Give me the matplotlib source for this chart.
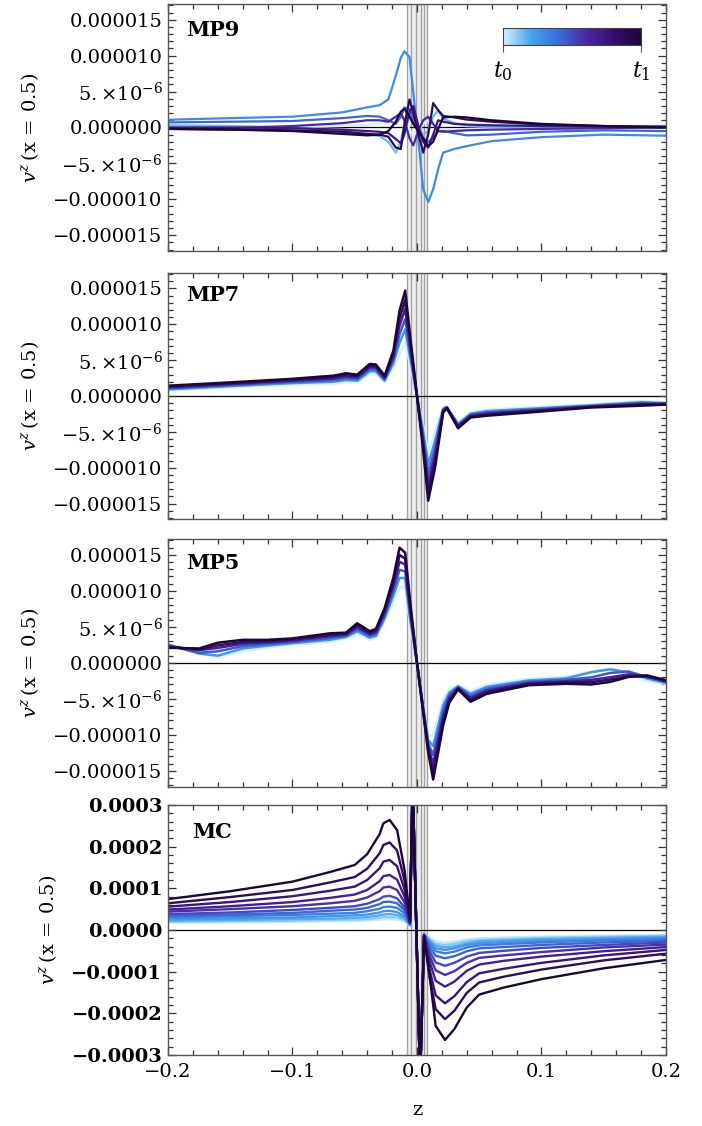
import numpy as np
import matplotlib
matplotlib.use('Agg')
import matplotlib.pyplot as plt
from matplotlib.colors import LinearSegmentedColormap
from matplotlib.ticker import MultipleLocator, AutoMinorLocator

plt.rcParams['font.family'] = ['DejaVu Serif']
plt.rcParams['mathtext.fontset'] = 'dejavuserif'

# ---- data (v^z in units of 1e-6 for MP panels, 1e-4 for MC) ----
z_mp9 = [-0.2, -0.15, -0.1, -0.06, -0.04, -0.03, -0.023, -0.017, -0.013, -0.0102, -0.006, -0.003,
         0.001, 0.005, 0.009, 0.013, 0.017, 0.021, 0.03, 0.04, 0.06, 0.1, 0.15, 0.2]
t_mp9 = [0.0, 0.15, 0.3, 0.42, 0.6, 0.72, 0.86, 1.0]
mp9_curves = [
    [0.1, 0.0, 0.0, 0.2, 0.4, 0.6, 1.0, 1.5, 1.8, 1.2, -0.2, -1.2, -0.6, 0.5, 1.0, 0.4, -0.4, -0.4, -0.3, -0.2, -0.1, 0.0, 0.1, 0.3],
    [0.3, 0.2, 0.0, -0.5, -0.9, -1.2, -2.0, -3.5, -2.0, 0.5, 1.8, 1.0, 0.0, -1.0, -0.5, 1.5, 2.4, 1.2, 0.6, 0.3, 0.1, 0.0, 0.1, 0.2],
    [1.07, 1.3, 1.5, 2.1, 2.8, 3.1, 3.9, 7.2, 9.7, 10.6, 9.8, 4.9, -1.6, -8.6, -10.4, -8.6, -5.8, -3.5, -3.0, -2.6, -1.9, -1.35, -1.0, -1.15],
    [0.7, 0.8, 0.9, 1.3, 1.6, 1.5, 1.0, 0.5, 1.5, 2.8, 2.5, 1.0, -0.2, -1.5, -2.0, -1.5, -0.5, -0.5, -0.8, -1.1, -1.0, -0.6, -0.4, -0.5],
    [-0.1, -0.1, 0.2, 0.6, 1.0, 1.0, 0.8, 1.5, 2.0, 1.0, -1.5, -2.5, -0.5, 1.0, 1.5, 0.5, -0.5, -0.6, -0.5, -0.4, -0.3, -0.2, -0.1, 0.0],
    [0.0, 0.0, -0.1, -0.3, -0.5, -0.6, -0.8, -1.6, -2.2, -1.0, 2.2, 3.0, 0.3, -2.0, -2.8, -1.0, 1.0, 0.8, 0.5, 0.4, 0.3, 0.2, 0.1, 0.0],
    [-0.2, -0.3, -0.4, -0.6, -0.9, -1.0, -1.3, -2.8, -3.0, 0.3, 3.9, 2.0, -0.8, -3.5, -1.0, 3.4, 2.4, 1.6, 1.4, 1.1, 0.8, 0.4, 0.2, 0.1],
    [-0.2, -0.3, -0.5, -0.9, -1.1, -1.0, -0.5, 0.8, 2.2, 2.6, 1.5, 0.5, -0.5, -1.5, -2.6, -2.0, -0.2, 1.4, 1.5, 1.4, 1.0, 0.5, 0.2, 0.0],
]

z_mp7 = [-0.2, -0.15, -0.1, -0.067, -0.057, -0.048, -0.038, -0.033, -0.026, -0.019, -0.014, -0.0095, -0.0055,
         0.0, 0.005, 0.009, 0.0145, 0.021, 0.024, 0.033, 0.043, 0.056, 0.09, 0.14, 0.18, 0.2]
t_mp7 = [0.0, 0.25, 0.45, 0.65, 0.82, 1.0]
mp7_curves = [
    [0.75, 1.2, 1.6, 1.7, 1.9, 1.85, 3.1, 3.1, 1.9, 4.0, 5.9, 7.5, 4.3, 0.0, -4.1, -7.8, -5.0, -1.6, -1.5, -3.7, -2.3, -1.9, -1.6, -1.2, -0.7, -0.9],
    [0.92, 1.38, 1.8, 1.99, 2.22, 2.13, 3.44, 3.43, 2.14, 4.58, 7.4, 9.3, 5.33, 0.0, -4.98, -9.5, -6.25, -1.78, -1.55, -3.9, -2.48, -2.11, -1.78, -1.3, -0.86, -0.98],
    [1.06, 1.52, 1.96, 2.21, 2.47, 2.36, 3.72, 3.69, 2.32, 5.04, 8.6, 10.74, 6.15, 0.0, -5.68, -10.86, -7.25, -1.92, -1.59, -4.06, -2.62, -2.28, -1.92, -1.38, -0.99, -1.04],
    [1.2, 1.66, 2.12, 2.44, 2.73, 2.58, 3.99, 3.95, 2.51, 5.5, 9.8, 12.18, 6.97, 0.0, -6.38, -12.22, -8.25, -2.06, -1.63, -4.22, -2.76, -2.45, -2.06, -1.46, -1.12, -1.1],
    [1.32, 1.77, 2.26, 2.63, 2.94, 2.78, 4.22, 4.17, 2.67, 5.89, 10.82, 13.4, 7.66, 0.0, -6.97, -13.38, -9.1, -2.17, -1.66, -4.36, -2.87, -2.6, -2.17, -1.53, -1.23, -1.15],
    [1.44, 1.9, 2.4, 2.84, 3.17, 2.98, 4.47, 4.4, 2.84, 6.3, 11.9, 14.7, 8.4, 0.0, -7.6, -14.6, -10.0, -2.3, -1.7, -4.5, -3.0, -2.75, -2.3, -1.6, -1.35, -1.2],
]

z_mp5 = [-0.2, -0.175, -0.16, -0.14, -0.12, -0.1, -0.07, -0.057, -0.048, -0.038, -0.033, -0.026, -0.019, -0.014,
         -0.0095, -0.0055, 0.0, 0.005, 0.009, 0.013, 0.021, 0.026, 0.033, 0.043, 0.056, 0.09, 0.12, 0.14,
         0.155, 0.17, 0.185, 0.2]
t_mp5 = [0.0, 0.25, 0.45, 0.65, 0.82, 1.0]
mp5_curves = [
    [2.7, 1.3, 0.75, 1.6, 2.1, 2.5, 2.9, 3.4, 4.0, 3.2, 3.4, 5.7, 8.5, 10.4, 10.6, 5.3, 0.0, -5.9, -10.2, -10.0,
     -5.0, -3.6, -3.1, -3.9, -3.0, -2.2, -1.9, -1.2, -0.8, -1.5, -2.6, -2.9],
    [2.55, 1.3, 1.0, 2.0, 2.38, 2.73, 3.2, 3.6, 4.38, 3.5, 3.73, 6.18, 9.33, 11.8, 11.78, 6.1, 0.0, -6.15, -10.75, -11.55,
     -5.9, -4.1, -3.25, -4.28, -3.33, -2.43, -2.15, -1.3, -0.9, -1.3, -2.2, -2.78],
    [2.43, 1.4, 1.6, 2.32, 2.6, 2.9, 3.44, 3.76, 4.68, 3.74, 3.99, 6.56, 9.99, 12.92, 12.72, 6.74, 0.0, -6.35, -11.19, -12.79,
     -6.67, -4.46, -3.37, -4.58, -3.59, -2.61, -2.35, -2.01, -1.4, -1.2, -2.0, -2.68],
    [2.31, 1.76, 2.08, 2.64, 2.82, 3.09, 3.68, 3.92, 4.98, 3.98, 4.25, 6.94, 10.65, 14.04, 13.66, 7.38, 0.0, -6.55, -11.63, -14.03,
     -7.41, -4.84, -3.49, -4.88, -3.85, -2.79, -2.55, -2.37, -2.0, -1.6, -1.8, -2.58],
    [2.21, 1.87, 2.43, 2.91, 3.0, 3.24, 3.88, 4.06, 5.23, 4.18, 4.47, 7.26, 11.21, 14.99, 14.45, 7.92, 0.0, -6.72, -12.0, -15.08,
     -8.03, -5.16, -3.59, -5.13, -4.07, -2.94, -2.72, -2.68, -2.32, -1.87, -1.9, -2.49],
    [2.1, 2.0, 2.8, 3.2, 3.2, 3.4, 4.1, 4.2, 5.5, 4.4, 4.7, 7.6, 11.8, 16.0, 15.3, 8.5, 0.0, -6.9, -12.4, -16.2,
     -8.7, -5.5, -3.7, -5.4, -4.3, -3.1, -2.9, -3.0, -2.65, -1.95, -1.75, -2.4],
]

z_mc = [-0.2, -0.15, -0.1, -0.07, -0.05, -0.04, -0.03, -0.027, -0.022, -0.016, -0.01, -0.0056, -0.0035,
        0.0025, 0.0057, 0.01, 0.015, 0.0225, 0.03, 0.04, 0.05, 0.07, 0.1, 0.15, 0.2]
t_mc = [0.02, 0.1, 0.18, 0.26, 0.34, 0.42, 0.5, 0.58, 0.67, 0.76, 0.87, 1.0]
mc_curves = [
    [.18, .19, .20, .21, .21, .23, .25, .26, .26, .25, .21, .10, 3.6, -3.6, -.08, -.18, -.27, -.30, -.28, -.23, -.20, -.18, -.16, -.14, -.12],
    [.20, .21, .22, .24, .25, .26, .29, .31, .31, .30, .24, .11, 3.6, -3.6, -.09, -.22, -.33, -.36, -.33, -.27, -.24, -.22, -.19, -.16, -.14],
    [.22, .24, .26, .27, .29, .31, .35, .37, .38, .36, .28, .12, 3.6, -3.6, -.09, -.25, -.38, -.42, -.39, -.32, -.27, -.25, -.22, -.19, -.16],
    [.26, .28, .30, .33, .35, .37, .42, .45, .46, .43, .33, .12, 3.6, -3.6, -.10, -.29, -.44, -.48, -.44, -.36, -.32, -.29, -.26, -.22, -.19],
    [.30, .33, .36, .39, .41, .45, .51, .55, .56, .53, .40, .13, 3.6, -3.6, -.10, -.34, -.51, -.56, -.52, -.42, -.37, -.34, -.30, -.25, -.22],
    [.34, .37, .41, .46, .49, .53, .62, .67, .68, .64, .47, .14, 3.6, -3.6, -.11, -.41, -.62, -.68, -.63, -.51, -.44, -.41, -.36, -.30, -.26],
    [.38, .42, .48, .53, .57, .63, .74, .80, .82, .76, .54, .15, 3.6, -3.6, -.12, -.50, -.78, -.86, -.79, -.64, -.55, -.50, -.43, -.36, -.30],
    [.44, .50, .57, .64, .70, .78, .93, 1.02, 1.04, .96, .66, .16, 3.6, -3.6, -.12, -.61, -.97, -1.08, -.99, -.79, -.67, -.61, -.53, -.42, -.35],
    [.49, .57, .67, .77, .85, .96, 1.17, 1.29, 1.32, 1.21, .80, .17, 3.6, -3.6, -.13, -.74, -1.22, -1.36, -1.24, -.98, -.83, -.74, -.64, -.51, -.41],
    [.56, .67, .81, .94, 1.04, 1.20, 1.48, 1.64, 1.68, 1.53, .97, .19, 3.6, -3.6, -.14, -.93, -1.57, -1.76, -1.59, -1.25, -1.04, -.93, -.79, -.61, -.48],
    [.64, .79, .96, 1.14, 1.27, 1.47, 1.84, 2.04, 2.10, 1.91, 1.18, .21, 3.6, -3.6, -.15, -1.12, -1.90, -2.14, -1.94, -1.51, -1.26, -1.12, -.95, -.73, -.57],
    [.74, .93, 1.16, 1.39, 1.56, 1.82, 2.30, 2.56, 2.64, 2.40, 1.44, .25, 3.6, -3.6, -.15, -1.05, -2.30, -2.64, -2.38, -1.86, -1.55, -1.38, -1.18, -.92, -.72],
]

band_lines = [-0.0083, -0.0045, -0.0004, 0.0031, 0.0058, 0.0078]

mp_ticks = [15, 10, 5, 0, -5, -10, -15]
mp_ticklabels = ['0.000015', '0.000010', r'$5.{\times}10^{-6}$', '0.000000',
                 r'$-5.{\times}10^{-6}$', '\u22120.000010', '\u22120.000015']
mc_ticks = [3, 2, 1, 0, -1, -2, -3]
mc_ticklabels = ['0.0003', '0.0002', '0.0001', '0.0000', '\u22120.0001', '\u22120.0002', '\u22120.0003']
x_ticks = [-0.2, -0.1, 0.0, 0.1, 0.2]
x_ticklabels = ['\u22120.2', '\u22120.1', '0.0', '0.1', '0.2']

cmap = LinearSegmentedColormap.from_list(
    'time', ['#d5f1fc', '#45a6f0', '#3b6ddb', '#4a28a6', '#360e70', '#1c0735'])


def draw_panel(ax, z, curves, times, name, ylim, ticks, labels, lw, bold=False, name_x=0.036, name_y=0.9):
    ax.axvspan(band_lines[0], band_lines[-1], color='#ececec', zorder=0)
    for b in band_lines:
        ax.axvline(b, color='#a0a0a0', lw=0.9, zorder=0.5)
    ax.axhline(0, color='black', lw=0.9, zorder=1)
    for vals, t in zip(curves, times):
        ax.plot(z, vals, color=cmap(t), lw=lw, zorder=2, solid_joinstyle='round')
    ax.set_xlim(-0.2, 0.2)
    ax.set_ylim(-ylim, ylim)
    ax.xaxis.set_major_locator(MultipleLocator(0.1))
    ax.xaxis.set_minor_locator(MultipleLocator(0.02))
    ax.set_yticks(ticks)
    ax.set_yticklabels(labels, fontsize=14, fontweight='bold' if bold else 'normal')
    ax.yaxis.set_minor_locator(AutoMinorLocator(5))
    ax.tick_params(which='both', direction='in', top=True, right=True, width=0.9, colors='#333333')
    ax.tick_params(which='major', length=6)
    ax.tick_params(which='minor', length=3.5)
    ax.tick_params(axis='y', labelcolor='black', pad=4)
    for s in ax.spines.values():
        s.set_color('#555555')
        s.set_linewidth(1.0)
    ax.set_ylabel(r'$v^z\,(\mathrm{x}\,=\,0.5)$', fontsize=14, labelpad=9)
    ax.text(name_x, name_y, name, transform=ax.transAxes, fontsize=15, fontweight='bold', va='center')


fig = plt.figure(figsize=(7.02, 11.26), dpi=100)
left, width = 0.2393, 0.7094
ax1 = fig.add_axes([left, 0.7771, width, 0.2194])
ax2 = fig.add_axes([left, 0.5388, width, 0.2190])
ax3 = fig.add_axes([left, 0.3013, width, 0.2200])
ax4 = fig.add_axes([left, 0.0631, width, 0.2220])

draw_panel(ax1, z_mp9, mp9_curves, t_mp9, 'MP9', 17.2, mp_ticks, mp_ticklabels, 1.6, name_y=0.895)
draw_panel(ax2, z_mp7, mp7_curves, t_mp7, 'MP7', 17.2, mp_ticks, mp_ticklabels, 1.8, name_y=0.91)
draw_panel(ax3, z_mp5, mp5_curves, t_mp5, 'MP5', 17.2, mp_ticks, mp_ticklabels, 1.8, name_y=0.903)
draw_panel(ax4, z_mc, mc_curves, t_mc, 'MC', 3.0, mc_ticks, mc_ticklabels, 1.7, bold=True,
           name_x=0.048, name_y=0.893)

for ax in (ax1, ax2, ax3):
    ax.tick_params(labelbottom=False)
ax4.set_xticks(x_ticks)
ax4.set_xticklabels(x_ticklabels, fontsize=14)
ax4.tick_params(axis='x', labelcolor='black', pad=6)
ax4.set_xlabel('z', fontsize=14, labelpad=14)

# colour legend t0 -> t1
cax = fig.add_axes([0.7165, 0.960, 0.1966, 0.0151])
cax.imshow(np.linspace(0, 1, 256)[None, :], aspect='auto', cmap=cmap, extent=[0, 1, 0, 1])
cax.set_yticks([])
cax.set_xticks([0, 1])
cax.set_xticklabels(['$t_0$', '$t_1$'], fontsize=16)
cax.tick_params(axis='x', direction='out', length=5, width=0.8, colors='#555555', labelcolor='black', pad=5)
for s in cax.spines.values():
    s.set_color('#444444')
    s.set_linewidth(0.8)

fig.savefig('out.png', dpi=100)
